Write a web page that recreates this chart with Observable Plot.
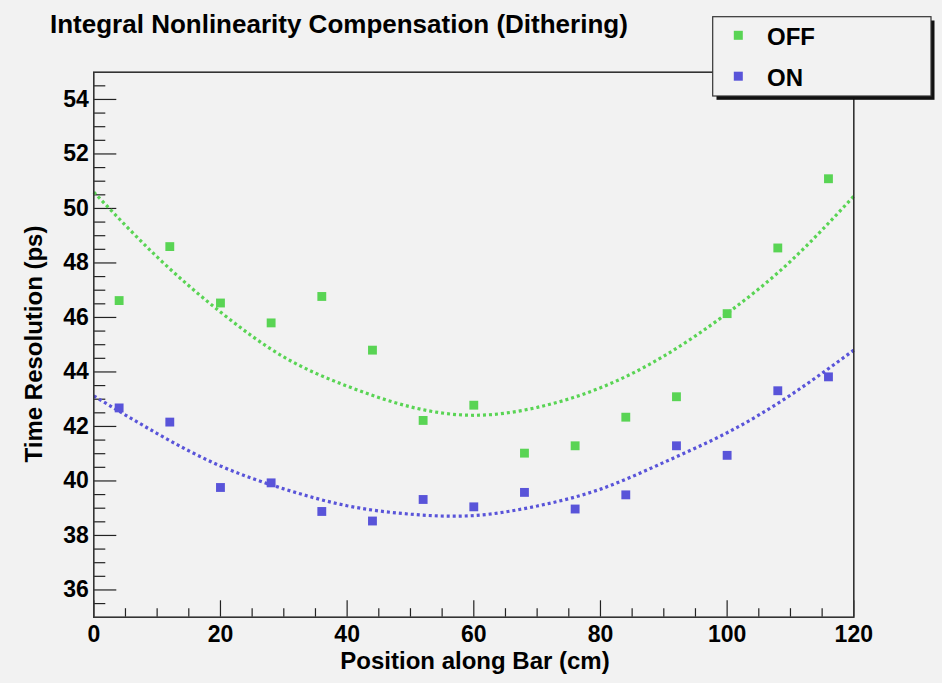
<!DOCTYPE html>
<html><head><meta charset="utf-8">
<script src="https://cdn.jsdelivr.net/npm/d3@7"></script>
<script src="https://cdn.jsdelivr.net/npm/@observablehq/plot@0.6"></script>
<style>
html,body{margin:0;padding:0;background:#f2f2f2;}
#wrap{position:relative;width:942px;height:683px;overflow:hidden;}
</style></head><body><div id="wrap"></div>
<script>
const positions = [4, 12, 20, 28, 36, 44, 52, 60, 68, 76, 84, 92, 100, 108, 116];
const offValues = [46.62, 48.60, 46.53, 45.80, 46.77, 44.80, 42.22, 42.78, 41.02, 41.29, 42.34, 43.09, 46.14, 48.55, 51.09];
const onValues  = [42.68, 42.16, 39.76, 39.93, 38.88, 38.53, 39.32, 39.05, 39.58, 38.97, 39.49, 41.29, 40.94, 43.31, 43.82];
const fitX   = [0, 10, 20, 30, 40, 50, 60, 70, 80, 90, 100, 110, 120];
const offFit = [50.60, 48.22, 46.20, 44.55, 43.48, 42.72, 42.41, 42.70, 43.42, 44.58, 46.15, 48.06, 50.45];
const onFit  = [43.12, 41.74, 40.55, 39.71, 39.09, 38.78, 38.73, 39.08, 39.70, 40.68, 41.77, 43.15, 44.80];
const xTicks = [0, 20, 40, 60, 80, 100, 120];
const yTicks = [36, 38, 40, 42, 44, 46, 48, 50, 52, 54];
const seriesNames = ["OFF", "ON"];
const seriesColors = ["#59d454", "#5954d9"];
const titleText = "Integral Nonlinearity Compensation (Dithering)";
const xTitle = "Position along Bar (cm)";
const yTitle = "Time Resolution (ps)";

const W = 942, H = 683;
const mL = 93.3, mR = 88.7, mT = 71.7, mB = 66.3;
const plotW = W - mL - mR, plotH = H - mT - mB;
const FONT = "'Liberation Sans', Arial, Helvetica, sans-serif";

const pts = [];
positions.forEach((x, i) => {
  pts.push({x, y: offValues[i], s: seriesNames[0]});
  pts.push({x, y: onValues[i], s: seriesNames[1]});
});
const fits = [];
fitX.forEach((x, i) => {
  fits.push({x, y: offFit[i], s: seriesNames[0]});
  fits.push({x, y: onFit[i], s: seriesNames[1]});
});
const xMinor = d3.range(0, 121, 5).filter(v => v % 20 !== 0);
const yMinor = d3.range(35.5, 55, 0.5).filter(v => v % 2 !== 0);

const chart = Plot.plot({
  width: W, height: H,
  marginLeft: mL, marginRight: mR, marginTop: mT, marginBottom: mB,
  style: {background: "#f2f2f2", fontFamily: FONT, color: "#000"},
  x: {domain: [0, 120]},
  y: {domain: [35, 55]},
  color: {domain: seriesNames, range: seriesColors},
  marks: [
    Plot.tickY(yTicks, {y: d => d, stroke: "#222", strokeWidth: 1.2, insetRight: plotW - 23}),
    Plot.tickY(yMinor, {y: d => d, stroke: "#222", strokeWidth: 1.2, insetRight: plotW - 12}),
    Plot.tickX(xTicks, {x: d => d, stroke: "#222", strokeWidth: 1.2, insetTop: plotH - 16.4}),
    Plot.tickX(xMinor, {x: d => d, stroke: "#222", strokeWidth: 1.2, insetTop: plotH - 8.5}),
    Plot.axisY(yTicks, {tickSize: 0, tickPadding: 5, fontSize: 23, fontWeight: "bold", label: null}),
    Plot.axisX(xTicks, {tickSize: 0, tickPadding: 8, fontSize: 23, fontWeight: "bold", label: null}),
    Plot.line(fits, {x: "x", y: "y", z: "s", stroke: "s", strokeWidth: 3.2, strokeDasharray: "3,3",
      strokeLinecap: "butt", strokeLinejoin: "miter", curve: "natural"}),
    Plot.dot(pts, {x: "x", y: "y", fill: "s", symbol: "square", r: 5, stroke: null}),
    Plot.frame({stroke: "#333", strokeWidth: 1.6})
  ]
});
document.getElementById("wrap").appendChild(chart);

const svg = d3.select(chart);
const txt = (x, y, s, size, anchor) => svg.append("text")
  .attr("x", x).attr("y", y).attr("font-family", FONT).attr("font-weight", "bold")
  .attr("font-size", size).attr("text-anchor", anchor || "start").attr("fill", "#000").text(s);

txt(50, 33.3, titleText, 26);
txt(475, 669, xTitle, 24, "middle");
svg.append("text").attr("transform", "translate(41.7,344) rotate(-90)")
  .attr("font-family", FONT).attr("font-weight", "bold").attr("font-size", 24)
  .attr("text-anchor", "middle").attr("fill", "#000").text(yTitle);

// legend
const lg = svg.append("g");
lg.append("rect").attr("x", 716.5).attr("y", 20.5).attr("width", 218).attr("height", 79.3).attr("fill", "#111");
lg.append("rect").attr("x", 712.7).attr("y", 16.7).attr("width", 218.3).attr("height", 79.3)
  .attr("fill", "#f2f2f2").attr("stroke", "#333").attr("stroke-width", 1.2);
const rowY = [35.3, 76.2];
seriesNames.forEach((n, i) => {
  lg.append("rect").attr("x", 738.3 - 4.5).attr("y", rowY[i] - 4.5).attr("width", 9).attr("height", 9).attr("fill", seriesColors[i]);
  txt(767, rowY[i] + 9.5, n, 24, "start");
});
</script></body></html>
